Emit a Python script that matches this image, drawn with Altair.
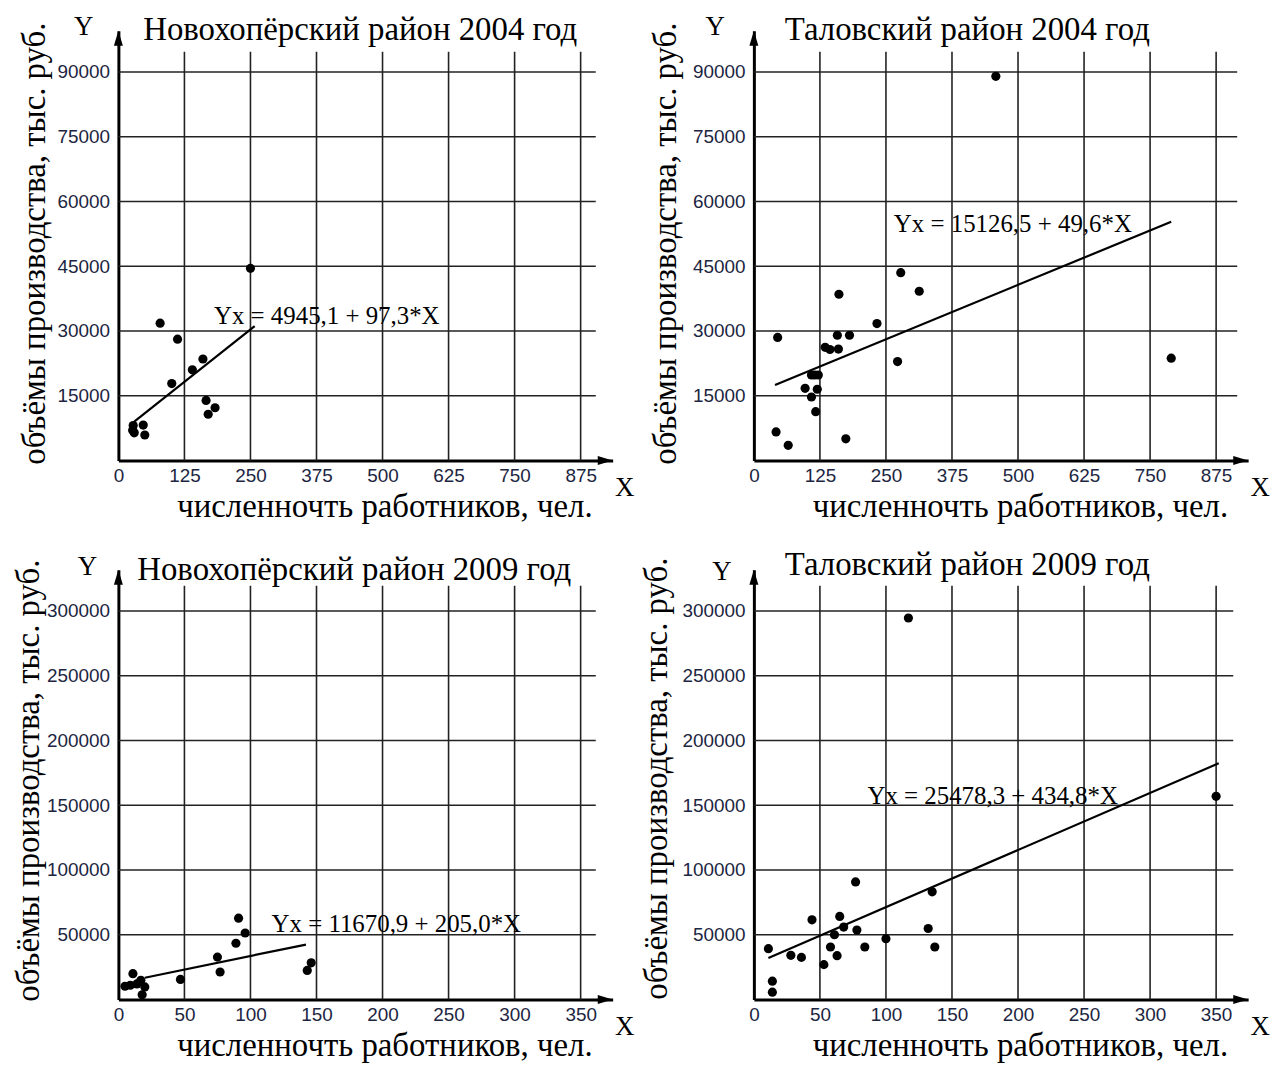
import altair as alt
import pandas as pd

SERIF = "Liberation Serif, Times New Roman, serif"
SANS = "Liberation Sans, Arial, sans-serif"
LBL = "#1c2541"

X_TITLE = "численночть работников, чел."
Y_TITLE = "объёмы производства, тыс. руб."

x_ticks_2004 = [0, 125, 250, 375, 500, 625, 750, 875]
y_ticks_2004 = [15000, 30000, 45000, 60000, 75000, 90000]
x_ticks_2009 = [0, 50, 100, 150, 200, 250, 300, 350]
y_ticks_2009 = [50000, 100000, 150000, 200000, 250000, 300000]

# Новохопёрский район 2004
n04_title = "Новохопёрский район 2004 год"
n04_x = [250, 79, 112, 160, 140, 101, 166, 183, 170, 28, 27, 30, 47, 50]
n04_y = [44500, 31800, 28100, 23500, 21000, 17800, 13900, 12200, 10700, 8100, 7000, 6400, 8200, 5900]
n04_fit_x = [30, 258]
n04_fit_y = [9000, 31100]
n04_eq = "Yx = 4945,1 + 97,3*X"
n04_eq_at = [181, 31600]

# Таловский район 2004
t04_title = "Таловский район 2004 год"
t04_x = [45, 42, 65, 161, 278, 313, 233, 158, 181, 135, 144, 160, 272, 109, 115, 122, 97, 120, 109, 117, 174, 458, 790]
t04_y = [28500, 6600, 3500, 38500, 43500, 39200, 31700, 29000, 29000, 26200, 25700, 25800, 22900, 19800, 19800,
         19800, 16700, 16500, 14700, 11300, 5000, 89000, 23700]
t04_fit_x = [40, 790]
t04_fit_y = [17500, 55300]
t04_eq = "Yx = 15126,5 + 49,6*X"
t04_eq_at = [265, 52850]

# Новохопёрский район 2009
n09_title = "Новохопёрский район 2009 год"
n09_x = [91, 96, 89, 75, 77, 47, 146, 143, 11, 5, 9, 17, 20, 18, 14]
n09_y = [62800, 51300, 43400, 32700, 21200, 15500, 28300, 22400, 19900, 10200, 11000, 14800, 9700, 3600, 12000]
n09_fit_x = [20, 142]
n09_fit_y = [16800, 42400]
n09_eq = "Yx = 11670,9 + 205,0*X"
n09_eq_at = [116, 52070]

# Таловский район 2009
t09_title = "Таловский район 2009 год"
t09_x = [77, 44, 65, 68, 61, 78, 135, 132, 137, 100, 84, 58, 63, 53, 36, 28, 11, 14, 14, 117, 350]
t09_y = [90800, 61500, 64100, 55900, 50000, 53600, 83100, 54800, 40500, 46900, 40500, 40500, 33800, 26900,
         32500, 34100, 39200, 14100, 5600, 294600, 156900]
t09_fit_x = [11, 352]
t09_fit_y = [32100, 182500]
t09_eq = "Yx = 25478,3 + 434,8*X"
t09_eq_at = [86, 150800]

# layout (pixels)
W, H = 497, 432
XSTEP_PX, YSTEP_PX = 66.4, 65.1


def text_layer(txt, x, y, size, align="left", angle=0, font=SERIF, baseline="alphabetic"):
    return alt.Chart(pd.DataFrame({"t": [txt]})).mark_text(
        align=align, baseline=baseline, font=font, fontSize=size, angle=angle, color="black"
    ).encode(text="t:N", x=alt.value(x), y=alt.value(y))


def panel(title, xs, ys, fx, fy, eq, eq_at, xt, yt, grid_top_px, grid_right_px, lay):
    xstep = xt[1] - xt[0]
    ystep = yt[1] - yt[0]
    x_max = xstep * W / XSTEP_PX
    y_max = ystep * H / YSTEP_PX
    xscale = alt.Scale(domain=[0, x_max], nice=False, zero=False)
    yscale = alt.Scale(domain=[0, y_max], nice=False, zero=False)
    xaxis = alt.Axis(values=xt, title=None, grid=False, ticks=False, domain=True, domainColor="black",
                     domainWidth=3, labelFont=SANS, labelFontSize=19, labelColor=LBL, labelPadding=6,
                     labelFlush=False, labelOverlap=False, format="d")
    yaxis = alt.Axis(values=yt, title=None, grid=False, ticks=False, domain=True, domainColor="black",
                     domainWidth=3, labelFont=SANS, labelFontSize=19, labelColor=LBL, labelPadding=9,
                     labelFlush=False, labelOverlap=False, format="d")

    def X(f="x"):
        return alt.X(f"{f}:Q", scale=xscale, axis=xaxis)

    def Y(f="y"):
        return alt.Y(f"{f}:Q", scale=yscale, axis=yaxis)

    grid_top = y_max * grid_top_px / H
    grid_right = x_max * grid_right_px / W

    vg = alt.Chart(pd.DataFrame({"x": xt[1:], "y": [0] * (len(xt) - 1), "y2": [grid_top] * (len(xt) - 1)})
                   ).mark_rule(color="#222222", strokeWidth=1.6).encode(x=X(), y=Y(), y2="y2:Q")
    hg = alt.Chart(pd.DataFrame({"y": yt, "x": [0] * len(yt), "x2": [grid_right] * len(yt)})
                   ).mark_rule(color="#222222", strokeWidth=1.6).encode(y=Y(), x=X(), x2="x2:Q")
    fit = alt.Chart(pd.DataFrame({"x": fx, "y": fy})).mark_line(color="black", strokeWidth=2.2).encode(x=X(), y=Y())
    pts = alt.Chart(pd.DataFrame({"x": xs, "y": ys})).mark_circle(size=85, color="black", opacity=1).encode(x=X(), y=Y())
    eqt = alt.Chart(pd.DataFrame({"x": [eq_at[0]], "y": [eq_at[1]], "t": [eq]})).mark_text(
        align="left", baseline="alphabetic", font=SERIF, fontSize=25, color="black"
    ).encode(x=X(), y=Y(), text="t:N")
    arr_x = alt.Chart(pd.DataFrame({"x": [x_max * (W - 7.5) / W], "y": [0]})).mark_point(
        shape="M-1,-0.6L1,0L-1,0.6Z", size=225, filled=True, color="black", opacity=1
    ).encode(x=X(), y=Y())
    arr_y = alt.Chart(pd.DataFrame({"x": [0], "y": [y_max * (H - 7.5) / H]})).mark_point(
        shape="M-0.6,1L0,-1L0.6,1Z", size=225, filled=True, color="black", opacity=1
    ).encode(x=X(), y=Y())

    layers = [
        vg, hg, fit, pts, eqt, arr_x, arr_y,
        text_layer(title, lay["tx"], lay["ty"], 33),
        text_layer("Y", lay["Yx"], lay["Yy"], 27, align="center"),
        text_layer("X", 509, 468, 27, align="center"),
        text_layer(X_TITLE, 268, 489, 33, align="center"),
        text_layer(Y_TITLE, lay["ytx"], lay["yty"], 33, align="center", angle=270),
    ]
    return alt.layer(*layers).properties(width=W, height=H)


p1 = panel(n04_title, n04_x, n04_y, n04_fit_x, n04_fit_y, n04_eq, n04_eq_at, x_ticks_2004, y_ticks_2004,
           411, 480, {"tx": 25, "ty": 9, "Yx": -35, "Yy": 4, "ytx": -74, "yty": 214})
p2 = panel(t04_title, t04_x, t04_y, t04_fit_x, t04_fit_y, t04_eq, t04_eq_at, x_ticks_2004, y_ticks_2004,
           411, 486, {"tx": 31, "ty": 9, "Yx": -39, "Yy": 4, "ytx": -78, "yty": 214})
p3 = panel(n09_title, n09_x, n09_y, n09_fit_x, n09_fit_y, n09_eq, n09_eq_at, x_ticks_2009, y_ticks_2009,
           416, 480, {"tx": 19, "ty": 10, "Yx": -31, "Yy": 5, "ytx": -80, "yty": 212})
p4 = panel(t09_title, t09_x, t09_y, t09_fit_x, t09_fit_y, t09_eq, t09_eq_at, x_ticks_2009, y_ticks_2009,
           416, 482, {"tx": 31, "ty": 5, "Yx": -32, "Yy": 10, "ytx": -87, "yty": 210})

chart = alt.concat(p1, p2, p3, p4, columns=2, spacing={"row": 110, "column": 142}, bounds="flush").properties(
    padding={"left": 4, "top": 2, "right": 5, "bottom": 5}
).configure_view(strokeWidth=0)

chart.save("out.html", embed_options={"renderer": "svg", "actions": False})
